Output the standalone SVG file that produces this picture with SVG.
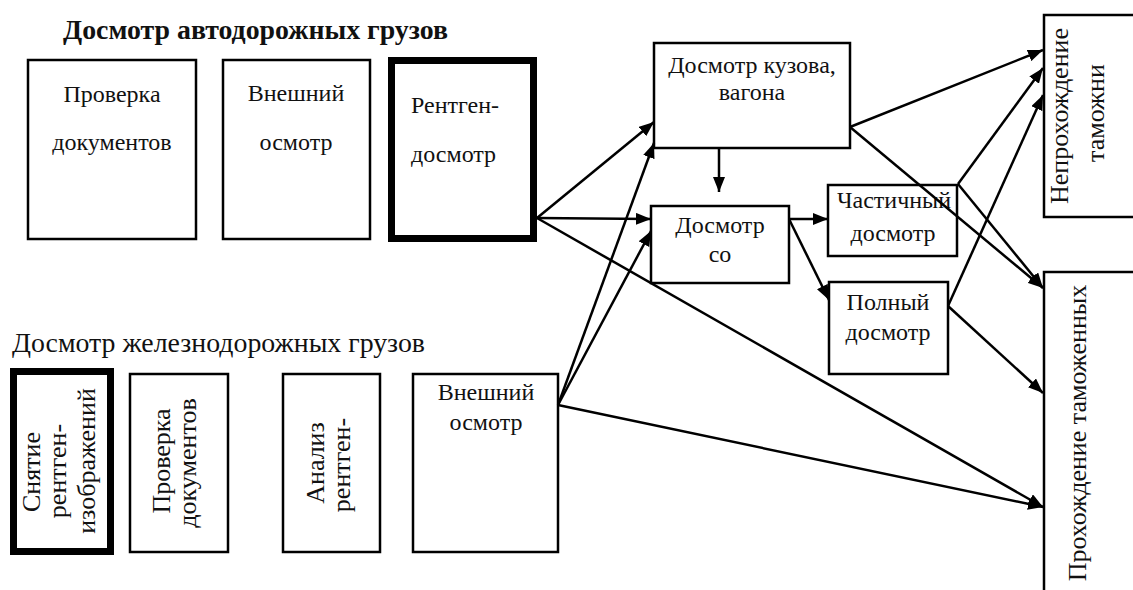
<svg xmlns="http://www.w3.org/2000/svg" width="1133" height="590" viewBox="0 0 1133 590">
<style>
text{font-family:"Liberation Serif","Tinos","Times New Roman","DejaVu Serif",serif;fill:#111}
.box{fill:#fff;stroke:#000;stroke-width:2.5}
.thick{fill:#fff;stroke:#000;stroke-width:7}
.t{font-size:24px}
.v{font-size:26px;text-anchor:middle}
.c{text-anchor:middle}
.conn line{stroke:#000;stroke-width:2.5;marker-end:url(#ah)}
</style>
<defs>
<marker id="ah" viewBox="0 0 15 12" refX="15" refY="6" markerWidth="15" markerHeight="12" markerUnits="userSpaceOnUse" orient="auto">
<path d="M0,0 L15,6 L0,12 z" fill="#000"/>
</marker>
</defs>
<rect width="1133" height="590" fill="#fff"/>
<text x="63" y="39" font-size="27" font-weight="bold" textLength="385" lengthAdjust="spacingAndGlyphs">Досмотр автодорожных грузов</text>
<text x="12" y="352" font-size="27" textLength="413" lengthAdjust="spacingAndGlyphs">Досмотр железнодорожных грузов</text>

<g id="auto-docs"><rect class="box" x="28" y="60" width="168" height="179"/><text class="t c" x="112" y="102">Проверка</text><text class="t c" x="112" y="150">документов</text></g>
<g id="auto-ext"><rect class="box" x="223" y="60" width="147" height="179"/><text class="t c" x="296" y="101">Внешний</text><text class="t c" x="296" y="150">осмотр</text></g>
<g id="auto-xray"><rect class="thick" x="391.5" y="60.5" width="142" height="178"/><text class="t" x="411" y="113">Рентген-</text><text class="t" x="411" y="162">досмотр</text></g>

<g id="body"><rect class="box" x="654" y="43" width="196" height="105"/><text class="t c" x="752" y="73">Досмотр кузова,</text><text class="t c" x="752" y="100">вагона</text></g>
<g id="open"><rect class="box" x="651" y="206" width="138" height="77"/><text class="t c" x="720" y="233">Досмотр</text><text class="t c" x="720" y="262">со</text></g>
<g id="partial"><rect class="box" x="828" y="185" width="129" height="71"/><text class="t c" x="894" y="208">Частичный</text><text class="t c" x="893" y="241">досмотр</text></g>
<g id="full"><rect class="box" x="829" y="282" width="119" height="92"/><text class="t c" x="888" y="310">Полный</text><text class="t c" x="888" y="340">досмотр</text></g>
<g id="fail"><rect class="box" x="1044" y="15" width="120" height="202"/><text class="v" transform="translate(1068,116) rotate(-90)">Непрохождение</text><text class="v" transform="translate(1104,113) rotate(-90)">таможни</text></g>
<g id="pass"><rect class="box" x="1044" y="272" width="120" height="360"/><text class="v" transform="translate(1086,433) rotate(-90)">Прохождение таможенных</text></g>

<g id="rail-xray"><rect class="thick" x="13.5" y="371.5" width="97" height="180"/><text class="v" transform="translate(40,472) rotate(-90)">Снятие</text><text class="v" transform="translate(66,471) rotate(-90)">рентген-</text><text class="v" transform="translate(95,461) rotate(-90)">изображений</text></g>
<g id="rail-docs"><rect class="box" x="130" y="374" width="98" height="178"/><text class="v" transform="translate(170,461) rotate(-90)">Проверка</text><text class="v" transform="translate(196,463) rotate(-90)">документов</text></g>
<g id="rail-analysis"><rect class="box" x="283" y="374" width="97" height="178"/><text class="v" transform="translate(324,463) rotate(-90)">Анализ</text><text class="v" transform="translate(350,465) rotate(-90)">рентген-</text></g>
<g id="rail-ext"><rect class="box" x="413" y="374" width="145" height="178"/><text class="t c" x="486" y="400">Внешний</text><text class="t c" x="486" y="430">осмотр</text></g>

<g id="connectors" class="conn">
<line x1="537" y1="218" x2="654" y2="122"/>
<line x1="537" y1="218" x2="651" y2="219"/>
<line x1="537" y1="218" x2="1043" y2="507"/>
<line x1="558" y1="405" x2="654" y2="143"/>
<line x1="558" y1="405" x2="651" y2="231"/>
<line x1="558" y1="405" x2="1043" y2="507"/>
<line x1="719" y1="148" x2="719" y2="192"/>
<line x1="850" y1="127" x2="1043" y2="50"/>
<line x1="850" y1="127" x2="1043" y2="288"/>
<line x1="789" y1="219" x2="828" y2="219"/>
<line x1="789" y1="219" x2="829" y2="300"/>
<line x1="958" y1="184" x2="1043" y2="68"/>
<line x1="958" y1="184" x2="1043" y2="288"/>
<line x1="948" y1="306" x2="1043" y2="95"/>
<line x1="948" y1="306" x2="1043" y2="393"/>
</g>
</svg>
